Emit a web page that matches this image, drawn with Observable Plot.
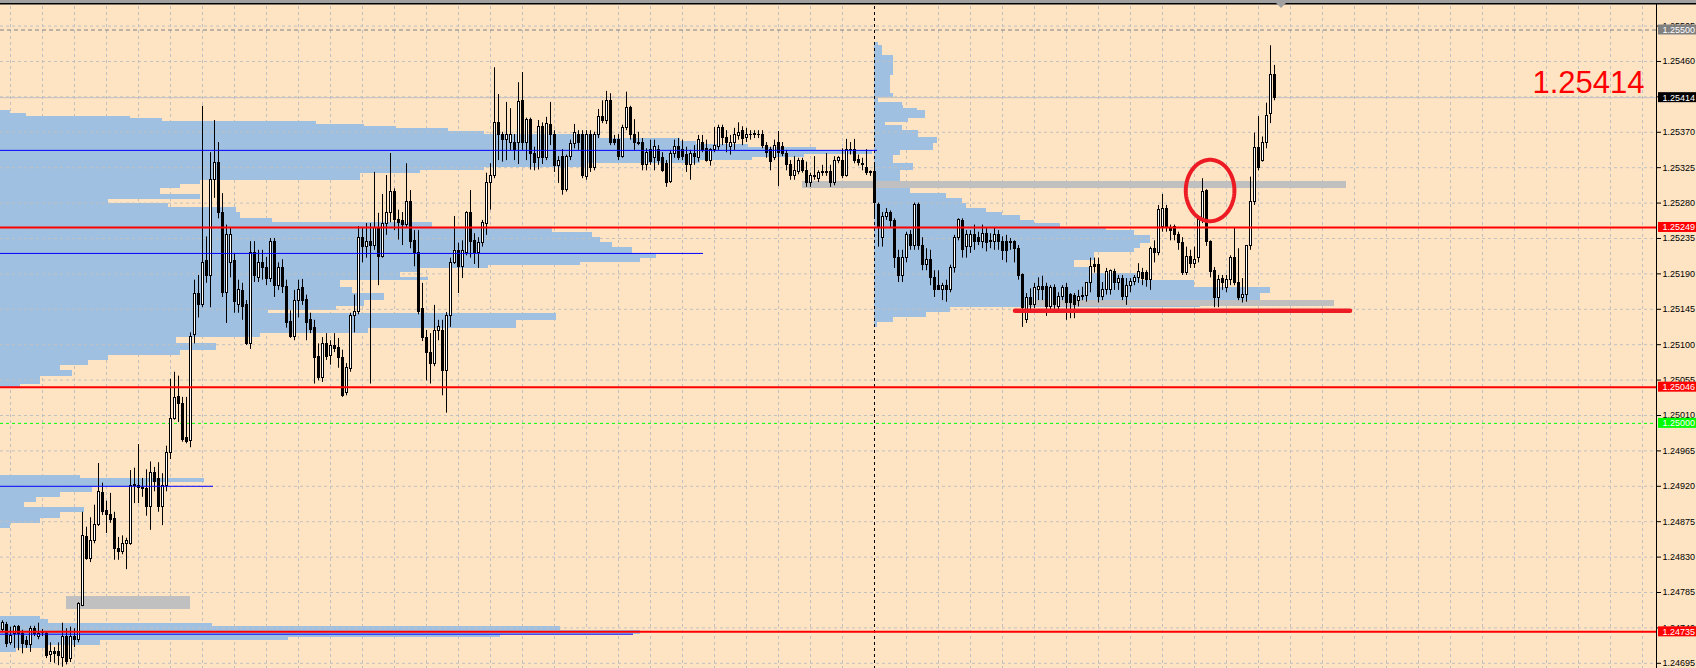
<!DOCTYPE html>
<html><head><meta charset="utf-8">
<script src="https://cdn.jsdelivr.net/npm/d3@7"></script>
<script src="https://cdn.jsdelivr.net/npm/@observablehq/plot@0.6"></script>
<style>html,body{margin:0;padding:0;background:#FFE4C4;overflow:hidden}svg{display:block}</style>
</head><body><div id="chart"></div>
<script>
// ---- candles (OHLC) ----
const open = [
1.24737,1.24744,1.24721,1.24732,1.24741,1.24732,1.24723,1.24718,1.24739,1.24728,
1.24733,1.24732,1.24705,1.24710,1.24710,1.24702,1.24729,1.24700,1.24729,1.24725,
1.24768,1.24856,1.24828,1.24850,1.24871,1.24912,1.24889,1.24883,1.24878,1.24840,
1.24837,1.24847,1.24847,1.24920,1.24921,1.24918,1.24917,1.24894,1.24937,1.24929,
1.24894,1.24920,1.24962,1.25006,1.25033,1.25025,1.24981,1.24978,1.25112,1.25165,
1.25151,1.25207,1.25187,1.25309,1.25331,1.25267,1.25166,1.25204,1.25206,1.25150,
1.25168,1.25151,1.25101,1.25216,1.25185,1.25204,1.25197,1.25183,1.25230,1.25174,
1.25197,1.25173,1.25129,1.25110,1.25155,1.25172,1.25157,1.25131,1.25121,1.25084,
1.25058,1.25101,1.25086,1.25098,1.25096,1.25083,1.25038,1.25069,1.25136,1.25141,
1.25236,1.25224,1.25230,1.25225,1.25248,1.25212,1.25253,1.25268,1.25294,1.25259,
1.25257,1.25252,1.25282,1.25232,1.25216,1.25145,1.25109,1.25090,1.25076,1.25118,
1.25117,1.25066,1.25136,1.25204,1.25219,1.25199,1.25216,1.25268,1.25232,1.25216,
1.25229,1.25254,1.25305,1.25314,1.25382,1.25366,1.25360,1.25357,1.25357,1.25357,
1.25410,1.25357,1.25385,1.25343,1.25337,1.25377,1.25337,1.25379,1.25367,1.25327,
1.25339,1.25297,1.25339,1.25355,1.25367,1.25367,1.25313,1.25366,1.25325,1.25366,
1.25389,1.25384,1.25410,1.25360,1.25360,1.25339,1.25375,1.25401,1.25367,1.25357,
1.25357,1.25328,1.25347,1.25337,1.25347,1.25337,1.25330,1.25307,1.25342,1.25351,
1.25347,1.25341,1.25328,1.25343,1.25337,1.25357,1.25349,1.25334,1.25347,1.25351,
1.25376,1.25363,1.25351,1.25356,1.25365,1.25371,1.25363,1.25366,1.25367,1.25367,
1.25367,1.25352,1.25347,1.25337,1.25356,1.25351,1.25343,1.25328,1.25314,1.25320,
1.25333,1.25321,1.25305,1.25313,1.25311,1.25318,1.25318,1.25319,1.25305,1.25333,
1.25334,1.25315,1.25347,1.25348,1.25335,1.25330,1.25325,1.25319,1.25319,1.25278,
1.25236,1.25262,1.25268,1.25257,1.25210,1.25187,1.25210,1.25240,1.25226,1.25278,
1.25226,1.25201,1.25208,1.25185,1.25174,1.25170,1.25174,1.25170,1.25197,1.25236,
1.25257,1.25224,1.25224,1.25240,1.25235,1.25230,1.25241,1.25232,1.25230,1.25239,
1.25231,1.25231,1.25230,1.25230,1.25222,1.25189,1.25131,1.25159,1.25151,1.25169,
1.25173,1.25173,1.25148,1.25172,1.25148,1.25161,1.25172,1.25163,1.25162,1.25156,
1.25162,1.25162,1.25178,1.25201,1.25201,1.25161,1.25169,1.25169,1.25193,1.25178,
1.25183,1.25160,1.25174,1.25180,1.25185,1.25191,1.25191,1.25182,1.25222,1.25216,
1.25249,1.25272,1.25248,1.25249,1.25240,1.25229,1.25191,1.25211,1.25202,1.25210,
1.25258,1.25295,1.25230,1.25194,1.25159,1.25183,1.25172,1.25182,1.25210,1.25178,
1.25159,1.25163,1.25225,1.25281,1.25350,1.25334,1.25357,1.25393,1.25443];
const high = [
1.24749,1.24747,1.24741,1.24743,1.24743,1.24737,1.24729,1.24742,1.24742,1.24746,
1.24738,1.24734,1.24721,1.24715,1.24721,1.24746,1.24739,1.24741,1.24739,1.24772,
1.24887,1.24868,1.24880,1.24896,1.24949,1.24924,1.24901,1.24911,1.24887,1.24855,
1.24857,1.24854,1.24940,1.24943,1.24973,1.24930,1.24941,1.24951,1.24944,1.24950,
1.24936,1.24971,1.25056,1.25065,1.25060,1.25033,1.25033,1.25115,1.25182,1.25188,
1.25403,1.25237,1.25344,1.25385,1.25357,1.25292,1.25252,1.25249,1.25216,1.25182,
1.25178,1.25156,1.25231,1.25231,1.25220,1.25220,1.25211,1.25235,1.25235,1.25204,
1.25208,1.25182,1.25143,1.25169,1.25182,1.25183,1.25163,1.25140,1.25131,1.25101,
1.25109,1.25114,1.25105,1.25114,1.25108,1.25093,1.25076,1.25140,1.25163,1.25250,
1.25249,1.25254,1.25254,1.25319,1.25267,1.25291,1.25315,1.25343,1.25298,1.25271,
1.25268,1.25330,1.25296,1.25245,1.25245,1.25178,1.25118,1.25114,1.25150,1.25131,
1.25131,1.25141,1.25210,1.25263,1.25229,1.25232,1.25269,1.25296,1.25241,1.25236,
1.25258,1.25318,1.25330,1.25452,1.25418,1.25370,1.25408,1.25400,1.25367,1.25433,
1.25446,1.25388,1.25388,1.25351,1.25385,1.25382,1.25389,1.25408,1.25372,1.25339,
1.25348,1.25341,1.25360,1.25380,1.25372,1.25372,1.25372,1.25372,1.25370,1.25399,
1.25410,1.25422,1.25419,1.25366,1.25367,1.25379,1.25421,1.25403,1.25386,1.25370,
1.25362,1.25349,1.25360,1.25360,1.25353,1.25344,1.25334,1.25347,1.25360,1.25362,
1.25360,1.25351,1.25347,1.25353,1.25366,1.25366,1.25360,1.25349,1.25376,1.25379,
1.25379,1.25372,1.25366,1.25375,1.25382,1.25377,1.25375,1.25372,1.25372,1.25372,
1.25372,1.25357,1.25351,1.25360,1.25371,1.25357,1.25347,1.25334,1.25339,1.25337,
1.25337,1.25332,1.25318,1.25339,1.25321,1.25328,1.25343,1.25328,1.25339,1.25339,
1.25349,1.25361,1.25357,1.25361,1.25341,1.25337,1.25348,1.25321,1.25328,1.25280,
1.25268,1.25273,1.25270,1.25260,1.25220,1.25220,1.25243,1.25245,1.25280,1.25280,
1.25236,1.25222,1.25220,1.25194,1.25194,1.25178,1.25182,1.25201,1.25239,1.25260,
1.25260,1.25245,1.25245,1.25252,1.25243,1.25252,1.25248,1.25241,1.25248,1.25245,
1.25237,1.25239,1.25235,1.25232,1.25226,1.25190,1.25165,1.25171,1.25178,1.25185,
1.25187,1.25178,1.25175,1.25176,1.25166,1.25175,1.25178,1.25165,1.25165,1.25169,
1.25173,1.25179,1.25210,1.25210,1.25210,1.25179,1.25197,1.25195,1.25196,1.25188,
1.25188,1.25184,1.25184,1.25188,1.25203,1.25197,1.25194,1.25224,1.25232,1.25277,
1.25291,1.25277,1.25252,1.25252,1.25243,1.25236,1.25224,1.25220,1.25224,1.25264,
1.25311,1.25297,1.25232,1.25198,1.25188,1.25188,1.25188,1.25213,1.25248,1.25222,
1.25184,1.25226,1.25313,1.25369,1.25390,1.25364,1.25407,1.25480,1.25455];
const low = [
1.24734,1.24715,1.24718,1.24714,1.24711,1.24707,1.24714,1.24709,1.24729,1.24725,
1.24729,1.24701,1.24696,1.24695,1.24692,1.24690,1.24693,1.24696,1.24715,1.24721,
1.24767,1.24826,1.24823,1.24847,1.24869,1.24883,1.24860,1.24873,1.24826,1.24826,
1.24833,1.24814,1.24845,1.24898,1.24898,1.24906,1.24882,1.24864,1.24913,1.24887,
1.24870,1.24913,1.24954,1.25004,1.25001,1.24976,1.24974,1.24969,1.25101,1.25134,
1.25147,1.25178,1.25147,1.25286,1.25260,1.25160,1.25127,1.25185,1.25140,1.25140,
1.25131,1.25099,1.25094,1.25179,1.25179,1.25182,1.25175,1.25179,1.25160,1.25169,
1.25165,1.25121,1.25108,1.25105,1.25134,1.25150,1.25105,1.25114,1.25050,1.25054,
1.25052,1.25080,1.25074,1.25090,1.25070,1.25033,1.25035,1.25065,1.25115,1.25138,
1.25204,1.25210,1.25050,1.25220,1.25175,1.25210,1.25239,1.25255,1.25245,1.25233,
1.25226,1.25248,1.25222,1.25199,1.25138,1.25104,1.25054,1.25050,1.25072,1.25105,
1.25035,1.25013,1.25122,1.25202,1.25165,1.25184,1.25213,1.25210,1.25202,1.25197,
1.25224,1.25239,1.25271,1.25311,1.25334,1.25332,1.25334,1.25347,1.25334,1.25329,
1.25347,1.25334,1.25322,1.25321,1.25322,1.25329,1.25334,1.25353,1.25319,1.25305,
1.25290,1.25294,1.25334,1.25349,1.25347,1.25311,1.25309,1.25319,1.25321,1.25362,
1.25381,1.25380,1.25353,1.25353,1.25334,1.25337,1.25372,1.25360,1.25347,1.25353,
1.25321,1.25321,1.25328,1.25321,1.25328,1.25319,1.25300,1.25305,1.25337,1.25334,
1.25334,1.25319,1.25309,1.25328,1.25332,1.25344,1.25332,1.25327,1.25344,1.25347,
1.25353,1.25344,1.25341,1.25347,1.25360,1.25353,1.25357,1.25360,1.25362,1.25362,
1.25349,1.25337,1.25321,1.25334,1.25301,1.25339,1.25321,1.25309,1.25309,1.25316,
1.25318,1.25300,1.25300,1.25309,1.25306,1.25314,1.25314,1.25300,1.25302,1.25330,
1.25311,1.25313,1.25341,1.25330,1.25327,1.25321,1.25315,1.25314,1.25262,1.25224,
1.25224,1.25258,1.25248,1.25197,1.25179,1.25179,1.25204,1.25220,1.25220,1.25220,
1.25194,1.25194,1.25175,1.25160,1.25169,1.25156,1.25154,1.25166,1.25191,1.25232,
1.25210,1.25210,1.25216,1.25220,1.25226,1.25222,1.25218,1.25222,1.25220,1.25220,
1.25207,1.25204,1.25220,1.25204,1.25182,1.25122,1.25127,1.25143,1.25146,1.25156,
1.25156,1.25136,1.25141,1.25143,1.25143,1.25156,1.25131,1.25133,1.25133,1.25148,
1.25156,1.25154,1.25166,1.25191,1.25153,1.25156,1.25163,1.25163,1.25169,1.25169,
1.25156,1.25150,1.25166,1.25175,1.25178,1.25175,1.25173,1.25169,1.25204,1.25213,
1.25243,1.25243,1.25232,1.25232,1.25220,1.25188,1.25188,1.25197,1.25197,1.25204,
1.25254,1.25225,1.25185,1.25147,1.25147,1.25169,1.25166,1.25175,1.25175,1.25156,
1.25153,1.25154,1.25220,1.25277,1.25321,1.25332,1.25349,1.25381,1.25410];
const close = [
1.24746,1.24720,1.24730,1.24741,1.24732,1.24720,1.24718,1.24739,1.24732,1.24732,
1.24734,1.24704,1.24709,1.24707,1.24704,1.24728,1.24697,1.24729,1.24725,1.24770,
1.24857,1.24828,1.24851,1.24871,1.24913,1.24887,1.24883,1.24877,1.24840,1.24836,
1.24847,1.24850,1.24920,1.24922,1.24918,1.24916,1.24894,1.24937,1.24926,1.24894,
1.24920,1.24962,1.25006,1.25032,1.25025,1.24979,1.24976,1.25110,1.25165,1.25151,
1.25204,1.25187,1.25309,1.25331,1.25267,1.25166,1.25240,1.25240,1.25154,1.25169,
1.25148,1.25101,1.25216,1.25187,1.25204,1.25197,1.25183,1.25230,1.25174,1.25197,
1.25173,1.25128,1.25110,1.25155,1.25170,1.25155,1.25128,1.25119,1.25083,1.25058,
1.25101,1.25084,1.25098,1.25094,1.25083,1.25035,1.25070,1.25136,1.25141,1.25236,
1.25224,1.25230,1.25225,1.25248,1.25212,1.25253,1.25268,1.25294,1.25258,1.25255,
1.25252,1.25281,1.25231,1.25216,1.25142,1.25108,1.25090,1.25076,1.25118,1.25122,
1.25066,1.25136,1.25204,1.25219,1.25199,1.25219,1.25268,1.25230,1.25216,1.25229,
1.25255,1.25305,1.25314,1.25382,1.25366,1.25360,1.25366,1.25367,1.25348,1.25408,
1.25357,1.25385,1.25343,1.25331,1.25377,1.25337,1.25380,1.25367,1.25327,1.25333,
1.25296,1.25339,1.25355,1.25369,1.25356,1.25314,1.25367,1.25325,1.25366,1.25389,
1.25384,1.25410,1.25357,1.25356,1.25339,1.25375,1.25401,1.25367,1.25356,1.25355,
1.25328,1.25344,1.25332,1.25351,1.25333,1.25321,1.25306,1.25342,1.25351,1.25337,
1.25339,1.25328,1.25343,1.25339,1.25360,1.25347,1.25334,1.25347,1.25352,1.25376,
1.25363,1.25356,1.25357,1.25366,1.25369,1.25362,1.25366,1.25367,1.25368,1.25366,
1.25353,1.25344,1.25332,1.25353,1.25344,1.25343,1.25328,1.25314,1.25321,1.25333,
1.25321,1.25305,1.25314,1.25315,1.25318,1.25319,1.25319,1.25305,1.25333,1.25337,
1.25315,1.25347,1.25348,1.25333,1.25331,1.25328,1.25318,1.25318,1.25280,1.25249,
1.25262,1.25268,1.25257,1.25210,1.25187,1.25210,1.25239,1.25226,1.25278,1.25226,
1.25201,1.25208,1.25185,1.25170,1.25170,1.25174,1.25170,1.25197,1.25236,1.25258,
1.25220,1.25240,1.25240,1.25230,1.25230,1.25241,1.25229,1.25230,1.25239,1.25230,
1.25219,1.25219,1.25229,1.25222,1.25187,1.25147,1.25159,1.25150,1.25172,1.25173,
1.25170,1.25148,1.25172,1.25150,1.25161,1.25172,1.25153,1.25153,1.25151,1.25160,
1.25161,1.25178,1.25199,1.25199,1.25160,1.25169,1.25193,1.25194,1.25178,1.25183,
1.25160,1.25174,1.25180,1.25185,1.25193,1.25183,1.25182,1.25222,1.25216,1.25271,
1.25272,1.25249,1.25244,1.25240,1.25229,1.25191,1.25212,1.25202,1.25208,1.25258,
1.25294,1.25230,1.25193,1.25159,1.25182,1.25179,1.25182,1.25210,1.25179,1.25159,
1.25163,1.25225,1.25281,1.25350,1.25325,1.25357,1.25391,1.25443,1.25414];

// ---- volume profiles: price levels (row edges) and row volumes ----
const p1Levels = [1.25398,1.25394,1.25390,1.25388,1.25384,1.25380,1.25377,1.25375,1.25371,1.25367,1.25362,1.25358,1.25355,1.25351,1.25347,1.25342,1.25338,1.25334,1.25330,1.25325,1.25321,1.25318,1.25309,1.25304,1.25299,1.25291,1.25285,1.25280,1.25274,1.25268,1.25260,1.25255,1.25249,1.25243,1.25236,1.25230,1.25224,1.25216,1.25210,1.25204,1.25201,1.25197,1.25192,1.25185,1.25182,1.25173,1.25165,1.25156,1.25148,1.25143,1.25140,1.25131,1.25121,1.25114,1.25109,1.25101,1.25093,1.25086,1.25080,1.25074,1.25067,1.25060,1.25050,1.25044];
const p1Vol = [2.5,6.5,32.5,40.5,79,91,99,112,121,150,170,174,187,204,218,201,188,175,147,121,105,90,50,45,40,50,27,42,59,60,68,108,138,148,150,153,158,164,160,145,122,105,100,107,85,88,96,91,84,67,139,129,92,65,44,54,45,27,22,15,18,10,5];
const p1aLevels = [1.24934,1.24930,1.24925,1.24918,1.24912,1.24906,1.24899,1.24893,1.24887,1.24879,1.24873,1.24866];
const p1aVol = [20,51,37,23,15,9,6,21,15,10,2.5];
const p1bLevels = [1.24754,1.24751,1.24746,1.24742,1.24737,1.24732,1.24728,1.24724,1.24718,1.24714,1.24709];
const p1bVol = [10,12,53,140,160,125,72,25,12,4];
const p2Levels = [1.25484,1.25480,1.25468,1.25457,1.25442,1.25419,1.25414,1.25408,1.25404,1.25400,1.25398,1.25388,1.25382,1.25379,1.25372,1.25363,1.25356,1.25347,1.25341,1.25330,1.25321,1.25309,1.25299,1.25292,1.25286,1.25280,1.25273,1.25268,1.25264,1.25258,1.25254,1.25249,1.25245,1.25239,1.25229,1.25222,1.25217,1.25207,1.25198,1.25191,1.25182,1.25173,1.25165,1.25156,1.25147,1.25141,1.25135,1.25128,1.25122];
const p2Vol = [1,2,4.75,4.75,4,4.75,1,7,7.25,10.75,12.75,8.5,2.75,7,11,15.75,14.75,6.5,4.75,9.75,6.5,6.5,9,18,22,23,28,32,36.5,40,46.5,58,65,69,66.5,65,55,50,54,66.5,80,99,96.5,81.5,19,13,4.75,0.75];
const profileStarts = [-0.5, -0.5, -0.5, 218];

// ---- levels / annotations ----
const priceTicks = [1.24695,1.24740,1.24785,1.24830,1.24875,1.24920,1.24965,1.25010,1.25055,1.25100,1.25145,1.25190,1.25235,1.25280,1.25325,1.25370,1.25415,1.25460,1.25505];
const redLevels = [1.25249, 1.25046, 1.24735];
const blueLevels = [1.25347, 1.25216, 1.24920, 1.24732];
const blueEnds = [218.75, 175.25, 52.75, 157.75];
const grayTop = [1.25307, 1.25156, 1.24780];
const grayBottom = [1.25299, 1.25148, 1.24764];
const grayFrom = [200, 255.75, 16];
const grayTo = [336, 333, 47];
const supportPrice = 1.25143, supportFrom = 253.25, supportTo = 337;
const roundLevel = 1.25000, dashedLevel = 1.25500, bidPrice = 1.25414;
const sessionSplit = 218;
const circle = {i: 301.9, price: 1.25296, rx: 6.08, ry: 0.00039};
const labelPrices = [1.25500, 1.25414, 1.25249, 1.25046, 1.25000, 1.24735];
const labelColors = ["#808080", "#000000", "#FF0000", "#FF0000", "#00FF00", "#FF0000"];

// ---- build tables ----
const candles = open.map((o, i) => ({i, open: o, high: high[i], low: low[i], close: close[i]}));
const upCandles = candles.filter(d => d.close >= d.open);
const profRows = [];
[[p1Levels, p1Vol], [p1aLevels, p1aVol], [p1bLevels, p1bVol], [p2Levels, p2Vol]].forEach(([lv, vo], k) => {
  vo.forEach((v, j) => profRows.push({x1: profileStarts[k], x2: profileStarts[k] + v, y1: lv[j], y2: lv[j + 1]}));
});
const blues = blueLevels.map((p, k) => ({price: p, end: blueEnds[k]}));
const grays = grayTop.map((t, k) => ({top: t, bottom: grayBottom[k], from: grayFrom[k], to: grayTo[k]}));
const labels = labelPrices.map((p, k) => ({price: p, color: labelColors[k]}));
const vGrid = d3.range(2, 414, 8);
const ellipse = d3.range(0, 360, 3).map(a => ({
  x: circle.i + circle.rx * Math.cos(a * Math.PI / 180),
  y: circle.price + circle.ry * Math.sin(a * Math.PI / 180)
}));

const chart = Plot.plot({
  width: 1696, height: 668,
  marginLeft: 0, marginRight: 40, marginTop: 0, marginBottom: 0,
  x: {type: "linear", domain: [-0.5, 413.5], axis: null},
  y: {type: "linear", domain: [1.246884, 1.255375], axis: null},
  color: {type: "identity"},
  style: {background: "#FFE4C4", fontFamily: "'Liberation Sans', Arial, sans-serif", overflow: "visible"},
  marks: [
    Plot.ruleX(vGrid, {stroke: "#C0C0C0", strokeDasharray: "3,3"}),
    Plot.rect(profRows, {x1: "x1", x2: "x2", y1: "y1", y2: "y2", fill: "#9FC0E0", shapeRendering: "crispEdges"}),
    Plot.ruleY(priceTicks, {stroke: "#C0C0C0", strokeDasharray: "3,3"}),
    Plot.rect(grays, {x1: "from", x2: "to", y1: "top", y2: "bottom", fill: "#C0C0C0", shapeRendering: "crispEdges"}),
    Plot.ruleY([dashedLevel], {stroke: "#808080", strokeDasharray: "4,3"}),
    Plot.ruleY([bidPrice], {stroke: "#C0C0C0"}),
    Plot.ruleY([roundLevel], {stroke: "#00FF00", strokeDasharray: "3,3"}),
    Plot.ruleX([sessionSplit], {stroke: "#000000", strokeDasharray: "3,3"}),
    Plot.ruleX(candles, {x: "i", y1: "low", y2: "high", stroke: "#000000"}),
    Plot.rect(candles, {x1: d => d.i - 0.375, x2: d => d.i + 0.375, y1: "open", y2: "close", fill: "#000000", insetTop: -0.5, insetBottom: -0.5, shapeRendering: "crispEdges"}),
    Plot.rect(upCandles, {x1: d => d.i - 0.375, x2: d => d.i + 0.375, y1: "open", y2: "close", fill: "#FFFFFF", insetLeft: 1, insetRight: 1, insetTop: 0.5, insetBottom: 0.5, shapeRendering: "crispEdges"}),
    Plot.ruleY(redLevels, {stroke: "#FF0000", strokeWidth: 2}),
    Plot.ruleY(blues, {y: "price", x1: -0.5, x2: "end", stroke: "#0000FF"}),
    Plot.ruleY([supportPrice], {x1: supportFrom, x2: supportTo, stroke: "#ED1C24", strokeWidth: 4.5, strokeLinecap: "round"}),
    Plot.line(ellipse, {x: "x", y: "y", stroke: "#ED1C24", strokeWidth: 4, curve: "linear-closed"}),
    Plot.text([bidPrice], {frameAnchor: "top-right", dx: -12, dy: 70, lineAnchor: "top", textAnchor: "end", text: d => d.toFixed(5), fill: "#FF0000", fontSize: 31}),
    Plot.ruleX([413.5], {stroke: "#000000"}),
    Plot.axisY(priceTicks, {anchor: "right", tickSize: 4, tickPadding: 2, tickFormat: d => d.toFixed(5), fontSize: 9, color: "#000000", label: null}),
    Plot.rect(labels, {x1: 414, x2: 424, y1: "price", y2: "price", insetTop: -5, insetBottom: -5, fill: "color"}),
    Plot.text(labels, {x: 415, y: "price", text: d => d.price.toFixed(5), fill: "#FFFFFF", textAnchor: "start", fontSize: 9})
  ]
});
document.getElementById("chart").appendChild(chart);
const svg = d3.select(chart);
svg.append("rect").attr("x", 0).attr("y", 0).attr("width", 1696).attr("height", 3).attr("fill", "#A0A0A0");
svg.append("rect").attr("x", 0).attr("y", 3).attr("width", 1696).attr("height", 1.5).attr("fill", "#000000");
svg.append("path").attr("d", "M1276,3L1286,3L1281,8Z").attr("fill", "#A0A0A0");
</script></body></html>
